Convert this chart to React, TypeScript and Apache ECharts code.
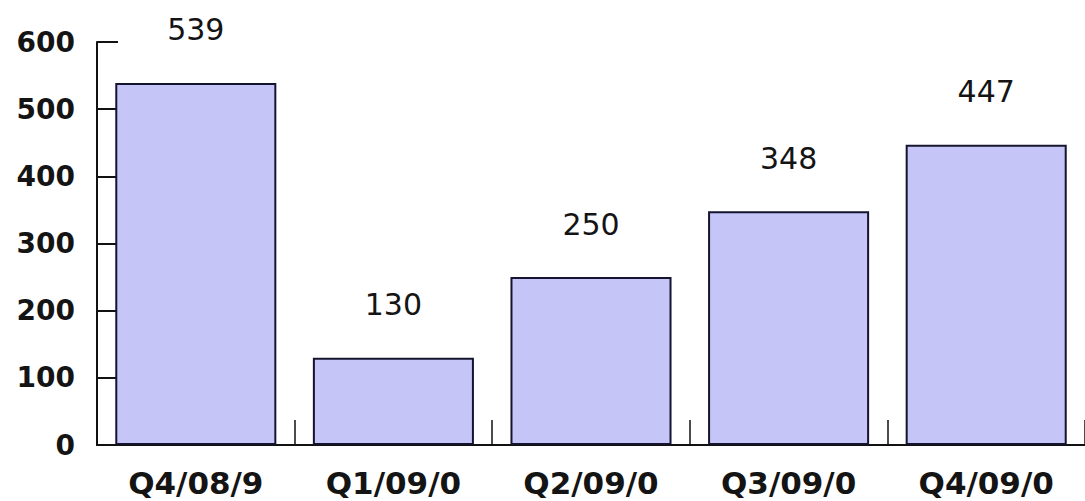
import React, { useEffect, useRef } from "react";
import * as echarts from "echarts";

const categories = ["Q4/08/9", "Q1/09/0", "Q2/09/0", "Q3/09/0", "Q4/09/0"];
const values = [539, 130, 250, 348, 447];
const yTicks = { min: 0, max: 600, interval: 100 };

export default function App() {
  const ref = useRef<HTMLDivElement>(null);
  useEffect(() => {
    if (!ref.current) return;
    const chart = echarts.init(ref.current, undefined, { renderer: "svg" });
    const font = "DejaVu Sans, Verdana, sans-serif";
    chart.setOption({
      animation: false,
      backgroundColor: "#ffffff",
      grid: { left: 97, right: 0, top: 42, bottom: 56, containLabel: false, outerBoundsMode: "none" },
      xAxis: {
        type: "category",
        data: categories,
        boundaryGap: true,
        axisLine: { show: true, lineStyle: { color: "#111111", width: 2 } },
        axisTick: { show: true, inside: true, length: 25, alignWithLabel: false, lineStyle: { color: "#111111", width: 1.5 } },
        axisLabel: { color: "#141414", fontSize: 31, fontWeight: "bold", fontFamily: font, margin: 22 },
        splitLine: { show: false },
      },
      yAxis: {
        type: "value",
        min: yTicks.min,
        max: yTicks.max,
        interval: yTicks.interval,
        axisLine: { show: true, lineStyle: { color: "#111111", width: 2 } },
        axisTick: { show: true, inside: true, length: 21, lineStyle: { color: "#111111", width: 2 } },
        axisLabel: { color: "#141414", fontSize: 28, fontWeight: "bold", fontFamily: font, margin: 22 },
        splitLine: { show: false },
      },
      series: [
        {
          type: "bar",
          data: values,
          barWidth: "81.5%",
          itemStyle: { color: "#c5c5f7", borderColor: "#14142e", borderWidth: 2 },
          label: {
            show: true,
            position: "top",
            distance: 38,
            color: "#141414",
            fontSize: 30,
            fontFamily: font,
          },
        },
      ],
    });
    return () => chart.dispose();
  }, []);
  return <div ref={ref} style={{ position: "fixed", left: 0, top: 0, width: 1085, height: 501 }} />;
}
